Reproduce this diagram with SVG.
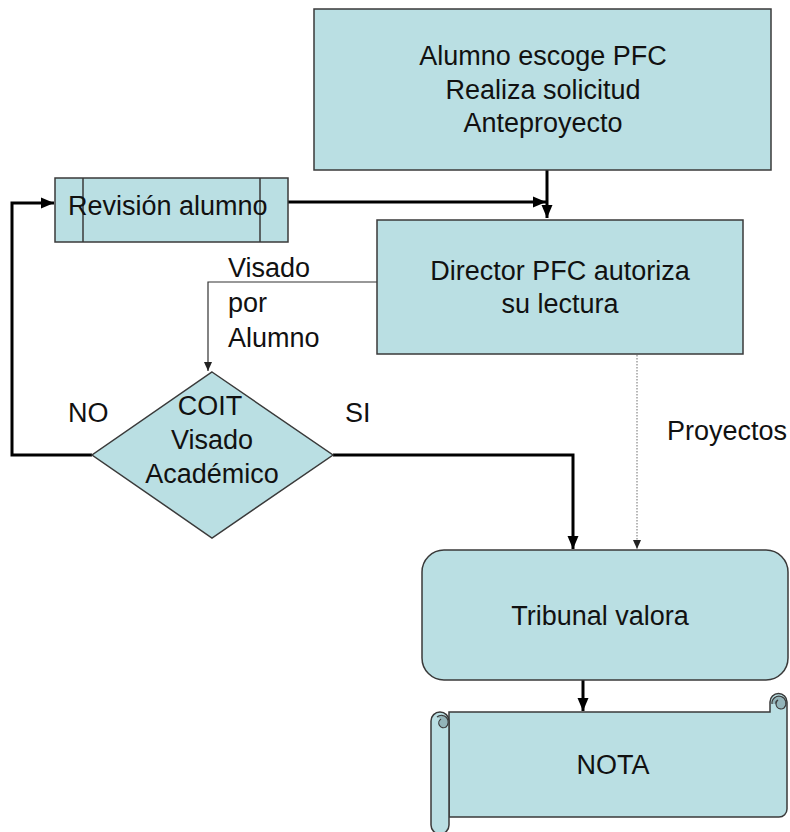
<svg xmlns="http://www.w3.org/2000/svg" width="790" height="832" viewBox="0 0 790 832">
<style>
.box{fill:#BADFE3;stroke:#3a3a3a;stroke-width:1.5}
.t{font-family:"Liberation Sans",Arial,sans-serif;font-size:27px;fill:#111}
.c{text-anchor:middle}
.thick{fill:none;stroke:#000;stroke-width:3}
.thin{fill:none;stroke:#333;stroke-width:1.2}
.dot{fill:none;stroke:#888;stroke-width:1.2;stroke-dasharray:1.5 1.5}
</style>
<defs>
<marker id="ah" markerUnits="userSpaceOnUse" markerWidth="14" markerHeight="14" viewBox="0 0 14 14" refX="13" refY="7" orient="auto"><path d="M0,1.5 L13,7 L0,12.5 Z" fill="#000"/></marker>
<marker id="as" markerUnits="userSpaceOnUse" markerWidth="10" markerHeight="10" viewBox="0 0 10 10" refX="9" refY="5" orient="auto"><path d="M0,1 L9,5 L0,9 Z" fill="#222"/></marker>
</defs>
<rect width="790" height="832" fill="#fff"/>
<g id="connectors">
<path class="thick" d="M547,170 V218" marker-end="url(#ah)"/>
<path class="thick" d="M288,202 H546" marker-end="url(#ah)"/>
<path class="thick" d="M92,455 H12 V203 H54" marker-end="url(#ah)"/>
<path class="thick" d="M333,455 H573 V549" marker-end="url(#ah)"/>
<path class="thin" d="M377,282 H208 V371" marker-end="url(#as)"/>
<path class="dot" d="M637,355 V549" marker-end="url(#as)"/>
<path class="thick" d="M583,680 V711" marker-end="url(#ah)"/>
</g>
<g id="n1">
<rect class="box" x="314" y="9" width="457" height="161"/>
<text class="t c" x="543" y="65">Alumno escoge PFC</text>
<text class="t c" x="543" y="99">Realiza solicitud</text>
<text class="t c" x="543" y="132">Anteproyecto</text>
</g>
<g id="n2">
<rect class="box" x="55" y="178" width="233" height="64"/>
<line x1="83" y1="178" x2="83" y2="242" stroke="#3a3a3a" stroke-width="1.5"/>
<line x1="260" y1="178" x2="260" y2="242" stroke="#3a3a3a" stroke-width="1.5"/>
<text class="t" x="68" y="215">Revisión alumno</text>
</g>
<g id="n3">
<rect class="box" x="377" y="220" width="366" height="134"/>
<text class="t c" x="560" y="280">Director PFC autoriza</text>
<text class="t c" x="560" y="313">su lectura</text>
</g>
<g id="n4">
<polygon class="box" points="212,372 333,455 212,538 92,455"/>
<text class="t c" x="210" y="415">COIT</text>
<text class="t c" x="212" y="449">Visado</text>
<text class="t c" x="212" y="483">Académico</text>
</g>
<g id="n5">
<rect class="box" x="422" y="550" width="366" height="130" rx="22"/>
<text class="t c" x="600" y="625">Tribunal valora</text>
</g>
<g id="n6">
<path class="box" d="M449,712 H770 V702 A8.5,8.5 0 0 1 787,702 V809 A8,8 0 0 1 779,817 H449 Z"/>
<path d="M772,704 A7,7 0 1 1 784,708 A5,5 0 0 1 778,700 A3,3 0 0 0 776,704" fill="#93B4B9" stroke="#3a3a3a" stroke-width="1.2"/>
<rect class="box" x="431" y="712" width="18" height="122" rx="9"/>
<path d="M437,717 A6.5,6.5 0 1 1 446,727 A4.5,4.5 0 0 1 441,719" fill="#93B4B9" stroke="#3a3a3a" stroke-width="1.2"/>
<text class="t c" x="613" y="774">NOTA</text>
</g>
<g id="labels">
<text class="t" x="228" y="277">Visado</text>
<text class="t" x="228" y="312">por</text>
<text class="t" x="228" y="347">Alumno</text>
<text class="t" x="68" y="422">NO</text>
<text class="t" x="345" y="422">SI</text>
<text class="t" x="667" y="440">Proyectos</text>
</g>
</svg>
